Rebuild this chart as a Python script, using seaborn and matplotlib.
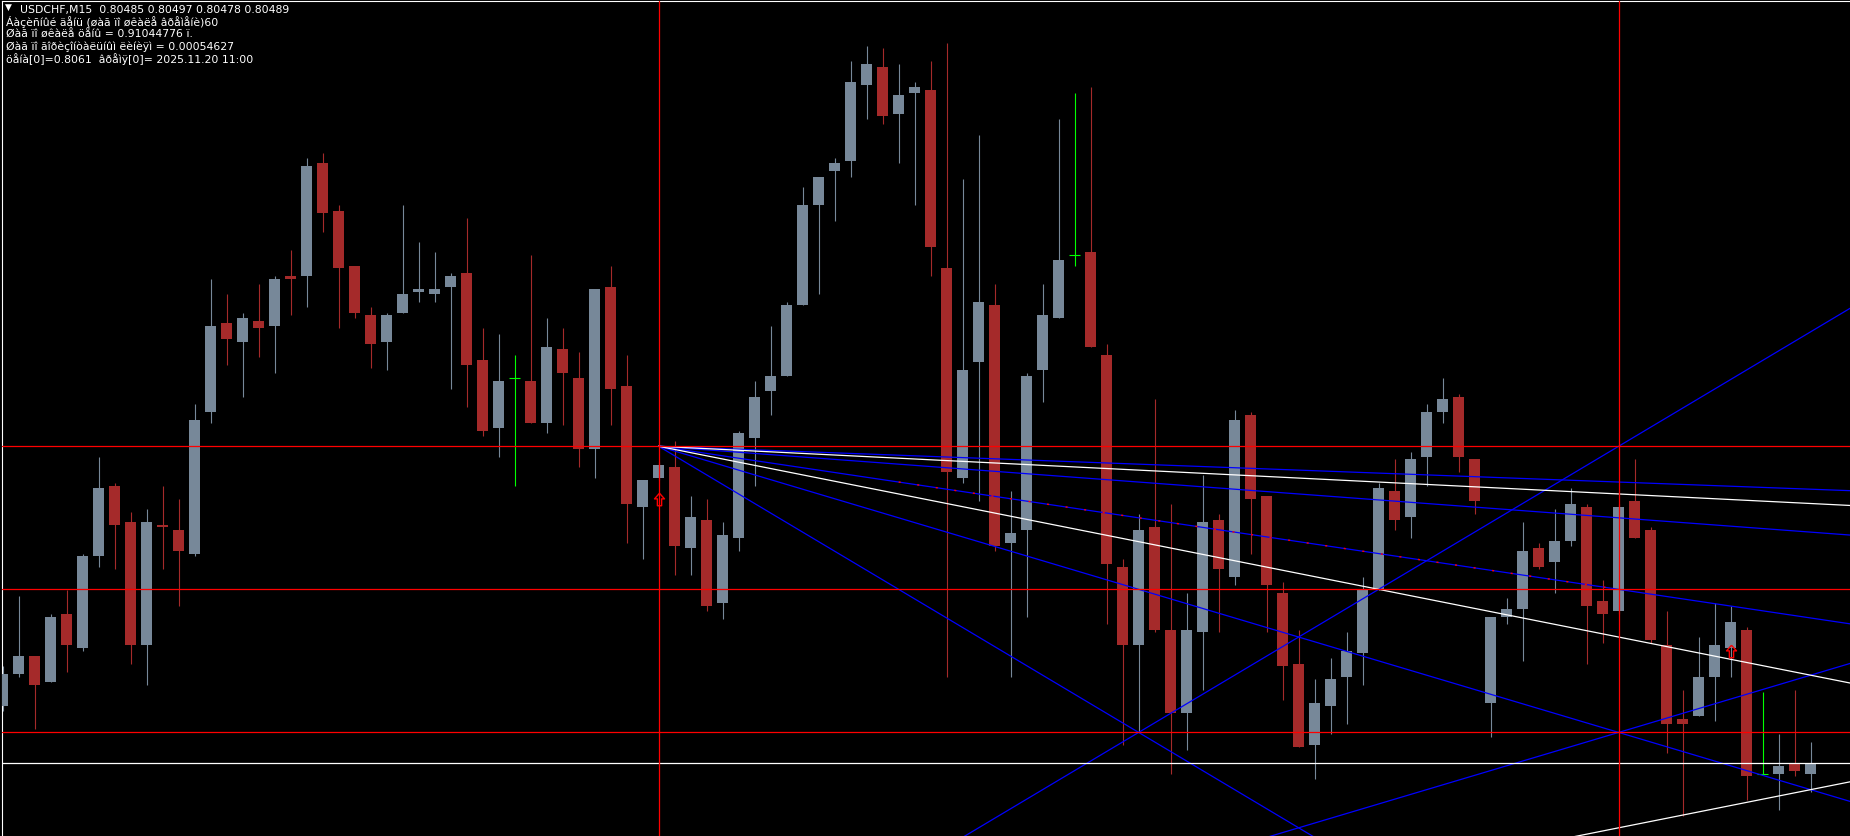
import matplotlib.pyplot as plt
from matplotlib.path import Path
import numpy as np
import pandas as pd
import seaborn as sns

# MetaTrader-like black chart
sns.set_style("dark", {"axes.facecolor": "black", "figure.facecolor": "black"})
plt.rcParams['font.family'] = ['DejaVu Sans']

# USDCHF M15 candles, oldest first
opens = [0.80511, 0.80523, 0.80530, 0.80520, 0.80546, 0.80533, 0.80568, 0.80595, 0.80581, 0.80534,
         0.80580, 0.80578, 0.80569, 0.80623, 0.80657, 0.80650, 0.80658, 0.80656, 0.80675, 0.80675,
         0.80718, 0.80700, 0.80679, 0.80660, 0.80650, 0.80661, 0.80669, 0.80668, 0.80671, 0.80676,
         0.80643, 0.80617, 0.80636, 0.80635, 0.80619, 0.80647, 0.80636, 0.80609, 0.80671, 0.80633,
         0.80587, 0.80598, 0.80602, 0.80571, 0.80582, 0.80550, 0.80575, 0.80613, 0.80631, 0.80637,
         0.80664, 0.80702, 0.80715, 0.80719, 0.80748, 0.80755, 0.80737, 0.80745, 0.80746, 0.80678,
         0.80598, 0.80642, 0.80664, 0.80573, 0.80578, 0.80639, 0.80659, 0.80683, 0.80684, 0.80645,
         0.80564, 0.80534, 0.80579, 0.80540, 0.80508, 0.80539, 0.80582, 0.80560, 0.80622, 0.80591,
         0.80554, 0.80527, 0.80496, 0.80511, 0.80522, 0.80531, 0.80555, 0.80593, 0.80583, 0.80606,
         0.80623, 0.80629, 0.80605, 0.80512, 0.80545, 0.80548, 0.80571, 0.80566, 0.80574, 0.80587,
         0.80551, 0.80547, 0.80589, 0.80578, 0.80534, 0.80506, 0.80507, 0.80522, 0.80533, 0.80540,
         0.80485, 0.80485, 0.80489, 0.80485]
highs = [0.80526, 0.80553, 0.80530, 0.80546, 0.80555, 0.80569, 0.80606, 0.80596, 0.80585, 0.80586,
         0.80595, 0.80590, 0.80626, 0.80674, 0.80668, 0.80661, 0.80672, 0.80675, 0.80685, 0.80720,
         0.80722, 0.80702, 0.80679, 0.80663, 0.80661, 0.80702, 0.80688, 0.80684, 0.80676, 0.80697,
         0.80655, 0.80653, 0.80645, 0.80683, 0.80659, 0.80655, 0.80646, 0.80670, 0.80679, 0.80645,
         0.80597, 0.80604, 0.80612, 0.80591, 0.80590, 0.80581, 0.80616, 0.80635, 0.80656, 0.80665,
         0.80709, 0.80713, 0.80720, 0.80757, 0.80763, 0.80762, 0.80756, 0.80749, 0.80757, 0.80764,
         0.80712, 0.80729, 0.80672, 0.80593, 0.80638, 0.80672, 0.80735, 0.80745, 0.80747, 0.80649,
         0.80567, 0.80584, 0.80628, 0.80588, 0.80554, 0.80599, 0.80584, 0.80624, 0.80623, 0.80591,
         0.80558, 0.80540, 0.80521, 0.80529, 0.80539, 0.80560, 0.80596, 0.80605, 0.80608, 0.80626,
         0.80636, 0.80630, 0.80605, 0.80545, 0.80552, 0.80581, 0.80573, 0.80586, 0.80594, 0.80588,
         0.80559, 0.80588, 0.80605, 0.80579, 0.80547, 0.80517, 0.80537, 0.80550, 0.80549, 0.80541,
         0.80516, 0.80500, 0.80517, 0.80497]
lows = [0.80509, 0.80522, 0.80502, 0.80520, 0.80524, 0.80532, 0.80564, 0.80563, 0.80527, 0.80519,
        0.80563, 0.80549, 0.80568, 0.80619, 0.80641, 0.80629, 0.80644, 0.80638, 0.80660, 0.80663,
        0.80692, 0.80655, 0.80659, 0.80640, 0.80639, 0.80661, 0.80665, 0.80665, 0.80632, 0.80625,
        0.80614, 0.80606, 0.80595, 0.80619, 0.80615, 0.80618, 0.80602, 0.80598, 0.80618, 0.80573,
        0.80567, 0.80597, 0.80561, 0.80561, 0.80547, 0.80544, 0.80570, 0.80595, 0.80622, 0.80637,
        0.80664, 0.80668, 0.80696, 0.80713, 0.80735, 0.80733, 0.80718, 0.80702, 0.80675, 0.80522,
        0.80596, 0.80589, 0.80570, 0.80522, 0.80545, 0.80627, 0.80659, 0.80679, 0.80648, 0.80542,
        0.80496, 0.80501, 0.80539, 0.80485, 0.80494, 0.80517, 0.80539, 0.80557, 0.80569, 0.80539,
        0.80513, 0.80495, 0.80483, 0.80500, 0.80504, 0.80519, 0.80555, 0.80578, 0.80575, 0.80595,
        0.80619, 0.80600, 0.80584, 0.80499, 0.80542, 0.80528, 0.80563, 0.80554, 0.80572, 0.80527,
        0.80535, 0.80546, 0.80575, 0.80535, 0.80493, 0.80469, 0.80507, 0.80505, 0.80522, 0.80475,
        0.80485, 0.80471, 0.80484, 0.80478]
closes = [0.80523, 0.80530, 0.80519, 0.80545, 0.80534, 0.80568, 0.80594, 0.80580, 0.80534, 0.80581,
          0.80579, 0.80570, 0.80620, 0.80656, 0.80651, 0.80659, 0.80655, 0.80674, 0.80674, 0.80717,
          0.80699, 0.80678, 0.80661, 0.80649, 0.80660, 0.80668, 0.80670, 0.80670, 0.80675, 0.80641,
          0.80616, 0.80635, 0.80636, 0.80619, 0.80648, 0.80638, 0.80609, 0.80670, 0.80632, 0.80588,
          0.80597, 0.80603, 0.80572, 0.80583, 0.80549, 0.80576, 0.80615, 0.80629, 0.80637, 0.80664,
          0.80702, 0.80713, 0.80718, 0.80749, 0.80756, 0.80736, 0.80744, 0.80747, 0.80686, 0.80600,
          0.80639, 0.80665, 0.80572, 0.80577, 0.80637, 0.80660, 0.80681, 0.80683, 0.80648, 0.80565,
          0.80534, 0.80578, 0.80540, 0.80508, 0.80540, 0.80581, 0.80563, 0.80620, 0.80590, 0.80557,
          0.80526, 0.80495, 0.80512, 0.80521, 0.80532, 0.80555, 0.80594, 0.80582, 0.80605, 0.80623,
          0.80628, 0.80606, 0.80589, 0.80545, 0.80548, 0.80570, 0.80564, 0.80574, 0.80588, 0.80549,
          0.80546, 0.80587, 0.80575, 0.80536, 0.80504, 0.80504, 0.80522, 0.80534, 0.80543, 0.80484,
          0.80485, 0.80488, 0.80486, 0.80489]

# objects drawn on the chart
level_prices = [0.80610, 0.80555373, 0.80500746]   # red horizontal levels
bid_price = 0.80489
marker_bars = [41, 101]                              # red vertical lines
fan_bar = 41
fan_top = 0.80610
fan_bottom = 0.80391492
price_step = 0.91044776e-5                           # price per bar of the 1x1 line
blue_ratios = [4, 2, 1, 0.5, 0.25]
white_ratios = [4 / 3, 1 / 3]
arrow_bars = [41, 108]
arrow_prices = [0.80590, 0.80532]

header = [
    "USDCHF,M15  0.80485 0.80497 0.80478 0.80489",
    "Áàçèñíûé äåíü (øàã ïî øêàëå âðåìåíè)60",
    "Øàã ïî øêàëå öåíû = 0.91044776 ï.",
    "Øàã ïî ãîðèçîíòàëüíûì ëèíèÿì = 0.00054627",
    "öåíà[0]=0.8061  âðåìÿ[0]= 2025.11.20 11:00",
]

UP, DOWN, DOJI = "#778899", "#A52A2A", "#00FF00"
W, H = 1850, 837

fig = plt.figure(figsize=(W / 100, H / 100), dpi=100)
ax = fig.add_axes([2 / W, 0, 1 - 2 / W, 1 - 1.5 / H])
ax.set_xlim(-0.04, 115.46)
ax.set_ylim(0.804612, 0.807802)
ax.set_xticks([])
ax.set_yticks([])
for side in ["right", "bottom"]:
    ax.spines[side].set_visible(False)
for side in ["left", "top"]:
    ax.spines[side].set_color("white")
    ax.spines[side].set_linewidth(0.8)

# candles
o, h, l, c = map(np.array, (opens, highs, lows, closes))
bars = np.arange(len(o))
doji = o == c
colors = np.where(c > o, UP, np.where(c < o, DOWN, DOJI))
ax.vlines(bars, l, h, colors=colors, lw=0.8, zorder=2)
ax.bar(bars[~doji], np.abs(c - o)[~doji], bottom=np.minimum(o, c)[~doji],
       width=0.69, color=colors[~doji], linewidth=0, zorder=3)
ax.hlines(o[doji], bars[doji] - 0.345, bars[doji] + 0.345, colors=DOJI, lw=0.8, zorder=3)

# fans: falling from the top point, rising from the low point
end_bar = 117
rows = []
palette = {}
for ratios, col in ((blue_ratios, "#0000FF"), (white_ratios, "white")):
    for r in ratios:
        for sign, start in ((-1, fan_top), (1, fan_bottom)):
            name = f"{sign}_{r:.3f}"
            palette[name] = col
            for b in (fan_bar, end_bar):
                rows.append({"line": name, "bar": b,
                             "price": start + sign * r * price_step * (b - fan_bar)})
fan_df = pd.DataFrame(rows)
sns.lineplot(data=fan_df, x="bar", y="price", hue="line", palette=palette,
             estimator=None, legend=False, lw=0.9, ax=ax, zorder=4)

# red dotted copy on the 1x1 line
dot_bars = np.array([56, 101])
ax.plot(dot_bars, fan_top - price_step * (dot_bars - fan_bar), color="red",
        lw=1.0, ls=(0, (1.5, 12)), zorder=5)

# levels, bid, vertical markers
for p in level_prices:
    ax.axhline(p, color="red", lw=0.9, zorder=4)
ax.axhline(bid_price, color="white", lw=0.9, zorder=4)
for b in marker_bars:
    ax.axvline(b, color="red", lw=0.9, zorder=4)

# hollow up arrows
arrow = Path([(0, 0.5), (0.4, 0.05), (0.17, 0.05), (0.17, -0.5),
              (-0.17, -0.5), (-0.17, 0.05), (-0.4, 0.05), (0, 0.5)])
ax.plot(arrow_bars, arrow_prices, ls="none", marker=arrow, ms=9,
        mfc="none", mec="red", mew=1.0, zorder=6)

ax.set_xlabel("")
ax.set_ylabel("")

# header text
fig.text(5 / W, 1 - 7 / H, "▼", color="white", fontsize=6.5, va="center")
for i, line in enumerate(header):
    x = 20 if i == 0 else 6
    fig.text(x / W, 1 - (9.5 + 12.5 * i) / H, line, color="white",
             fontsize=7.85, va="center")

fig.savefig("out.png", dpi=100, facecolor="black")
